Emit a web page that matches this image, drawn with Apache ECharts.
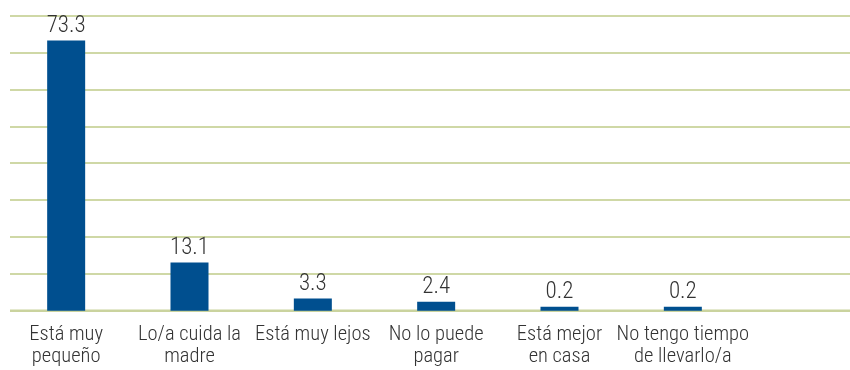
<!DOCTYPE html>
<html>
<head>
<meta charset="utf-8">
<script src="https://cdn.jsdelivr.net/npm/echarts@6/dist/echarts.min.js"></script>
<style>
  html, body { margin: 0; padding: 0; background: #ffffff; }
  #chart { width: 850px; height: 370px; }
</style>
</head>
<body>
<div id="chart"></div>
<script>
// Reasons given (percent)
const categories = [
  'Está muy\npequeño',
  'Lo/a cuida la\nmadre',
  'Está muy lejos',
  'No lo puede\npagar',
  'Está mejor\nen casa',
  'No tengo tiempo\nde llevarlo/a'
];
const values = [73.3, 13.1, 3.3, 2.4, 0.2, 0.2];
const yMin = 0;
const yMax = 80;
const yStep = 10;

const FONT = '"Roboto Condensed", "Liberation Sans Narrow", sans-serif';
const TEXT_COLOR = '#333333';
const GRID_TOP = 15.7;
const GRID_BOTTOM = 370 - 310.7;

const chart = echarts.init(document.getElementById('chart'), null, { renderer: 'canvas' });

chart.setOption({
  animation: false,
  backgroundColor: '#ffffff',
  grid: [
    // full-width grid carrying the horizontal rules
    { left: 10, right: 0, top: GRID_TOP, bottom: GRID_BOTTOM, containLabel: false },
    // grid holding the bars
    { left: 4.5, width: 740, top: GRID_TOP, bottom: GRID_BOTTOM, containLabel: false }
  ],
  xAxis: [
    {
      gridIndex: 0, type: 'value', min: 0, max: 1, show: false
    },
    {
      gridIndex: 1,
      type: 'category',
      data: categories,
      boundaryGap: true,
      axisLine: { show: false },
      axisTick: { show: false },
      axisLabel: {
        interval: 0,
        margin: 13,
        color: TEXT_COLOR,
        fontFamily: FONT,
        fontWeight: 300,
        fontSize: 20.5,
        lineHeight: 22
      }
    }
  ],
  yAxis: [
    {
      gridIndex: 0,
      type: 'value',
      min: yMin, max: yMax, interval: yStep,
      axisLine: { show: false },
      axisTick: { show: false },
      axisLabel: { show: false },
      splitLine: { show: true, lineStyle: { color: '#bfcb88', width: 1.5 } }
    },
    {
      gridIndex: 1,
      type: 'value',
      min: yMin, max: yMax, interval: yStep,
      show: false,
      splitLine: { show: false }
    }
  ],
  series: [
    {
      // baseline rule along the bottom
      type: 'line',
      xAxisIndex: 0, yAxisIndex: 0,
      data: [[0, 0], [1, 0]],
      symbol: 'none',
      lineStyle: { color: '#cad39e', width: 2.5 },
      silent: true,
      z: 1
    },
    {
      type: 'bar',
      xAxisIndex: 1, yAxisIndex: 1,
      data: values,
      barWidth: 38,
      barMinHeight: 4,
      itemStyle: { color: '#004f8f' },
      label: {
        show: true,
        position: 'top',
        distance: 3,
        color: TEXT_COLOR,
        fontFamily: FONT,
        fontWeight: 300,
        fontSize: 23,
        formatter: (p) => p.value.toFixed(1)
      },
      z: 3
    }
  ]
});
</script>
</body>
</html>
